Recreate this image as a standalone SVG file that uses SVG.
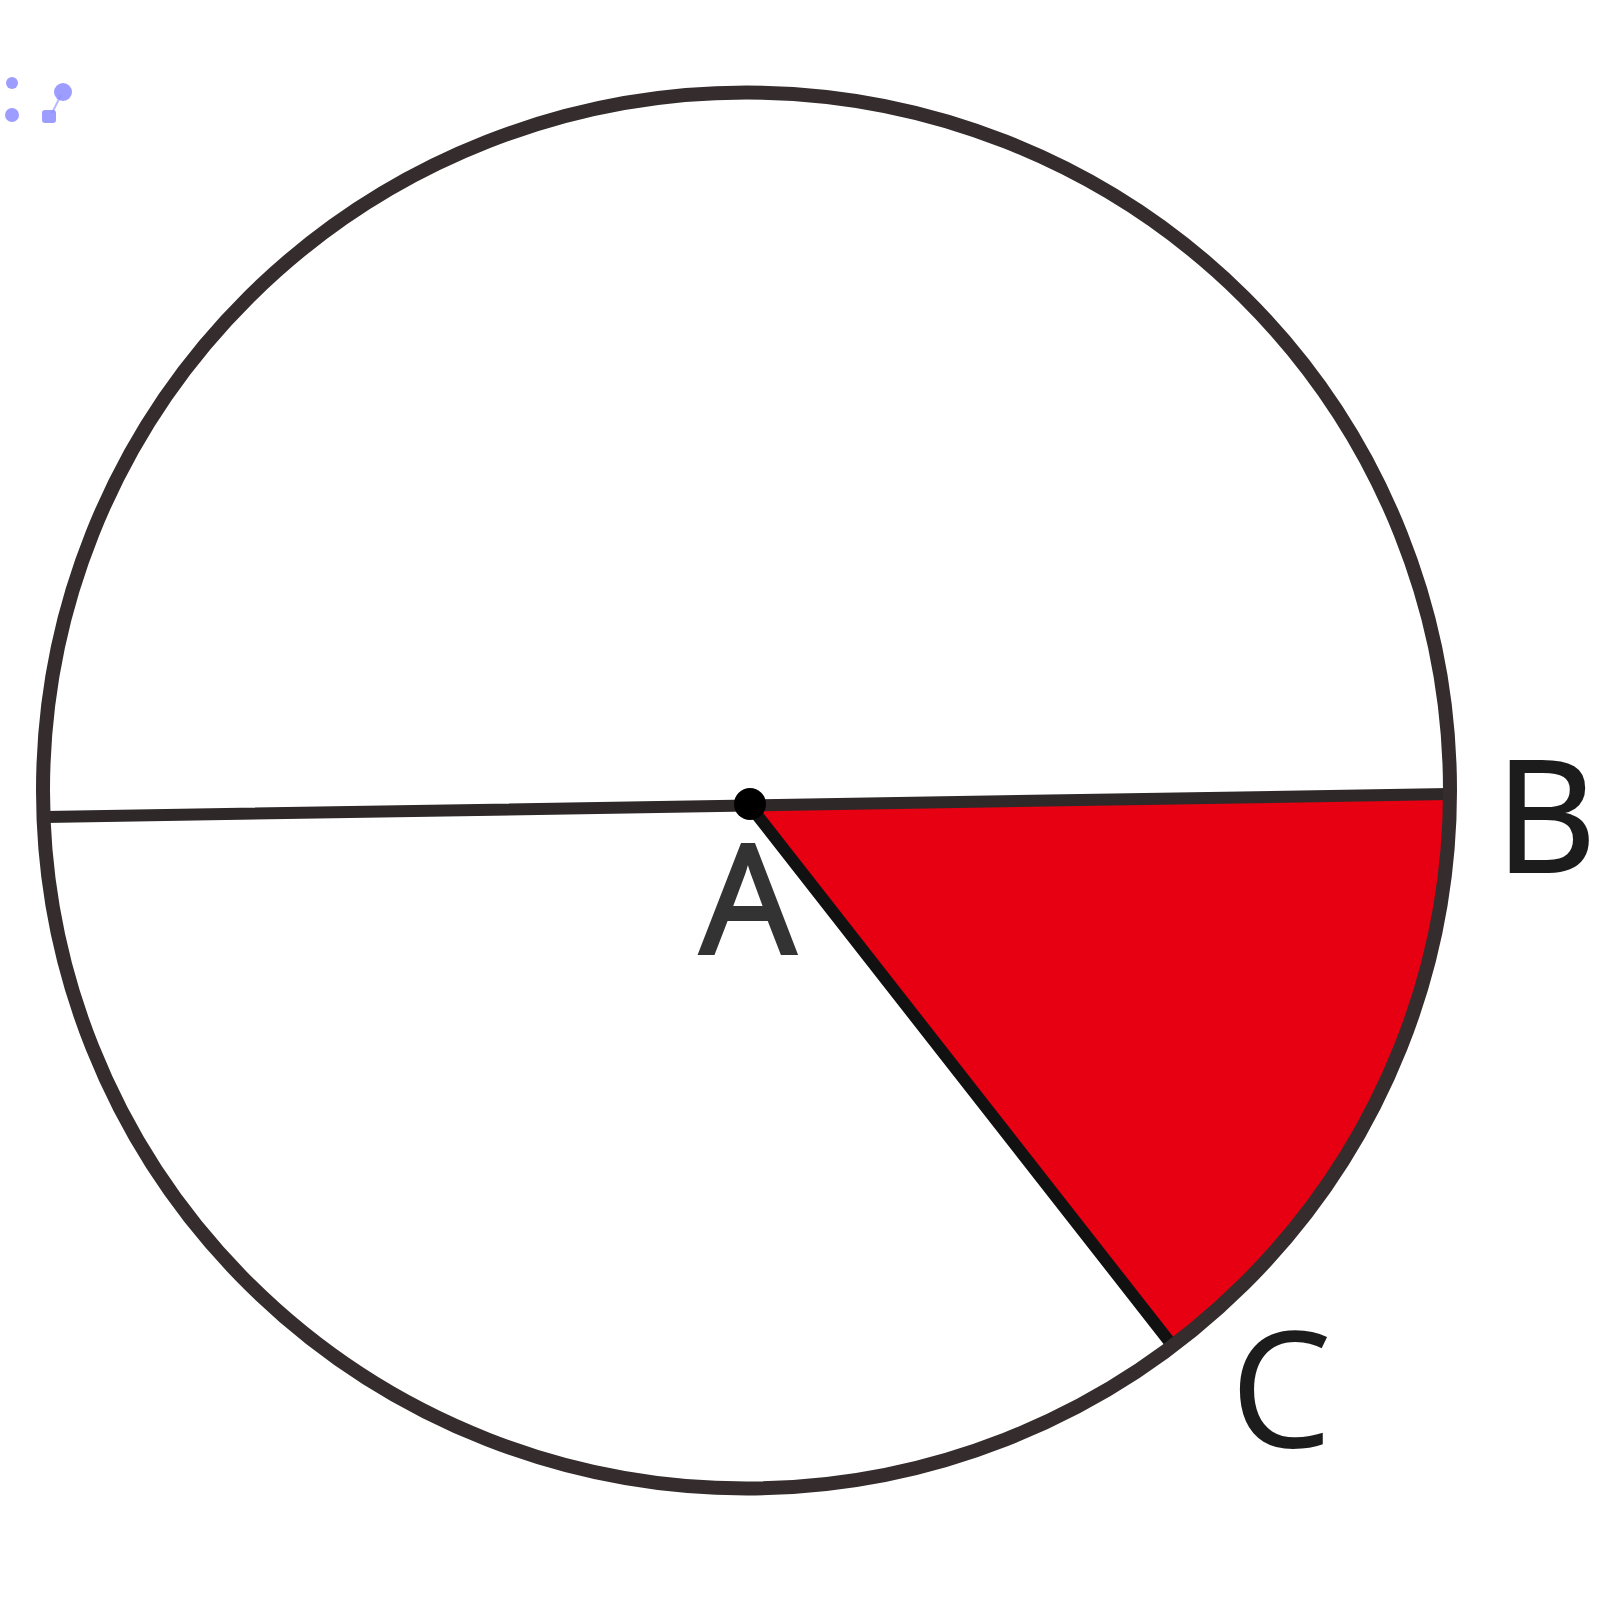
<svg xmlns="http://www.w3.org/2000/svg" width="1600" height="1600" viewBox="0 0 1600 1600">
<style>
.lbl{font-family:"Open Sans","Liberation Sans",sans-serif;fill:#1c1c1c}
.dot{fill:#8c8cff;opacity:0.85}
</style>
<rect width="1600" height="1600" fill="#ffffff"/>
<g id="marks">
<circle class="dot" cx="12" cy="83" r="6"/>
<circle class="dot" cx="12" cy="115" r="7"/>
<circle class="dot" cx="63" cy="92" r="9"/>
<rect class="dot" x="42" y="110" width="14" height="13" rx="3"/>
<line x1="61" y1="95" x2="52" y2="113" stroke="#8c8cff" stroke-width="2" opacity="0.6"/>
</g>
<g id="sector">
<path d="M750,806 L1449,796 A703.5,698 0 0,1 1172,1345 Z" fill="#e60012"/>
</g>
<g id="connectors" stroke-linecap="round">
<line x1="45" y1="817" x2="1449" y2="794" stroke="#2e2828" stroke-width="12"/>
<line x1="750" y1="806" x2="1172" y2="1345" stroke="#111" stroke-width="12"/>
</g>
<g id="circle">
<ellipse cx="746.5" cy="790.5" rx="703.5" ry="698" fill="none" stroke="#352d2d" stroke-width="14"/>
</g>
<g id="A">
<circle cx="750" cy="804" r="16" fill="#000"/>
<text class="lbl" x="748" y="953" font-size="150" text-anchor="middle" style="fill:#333" stroke="#333" stroke-width="4">A</text>
</g>
<g id="B">
<text class="lbl" x="1546" y="872" font-size="156" text-anchor="middle" stroke="#1c1c1c" stroke-width="2">B</text>
</g>
<g id="C">
<text class="lbl" x="1281" y="1447" font-size="162" text-anchor="middle">C</text>
</g>
</svg>
